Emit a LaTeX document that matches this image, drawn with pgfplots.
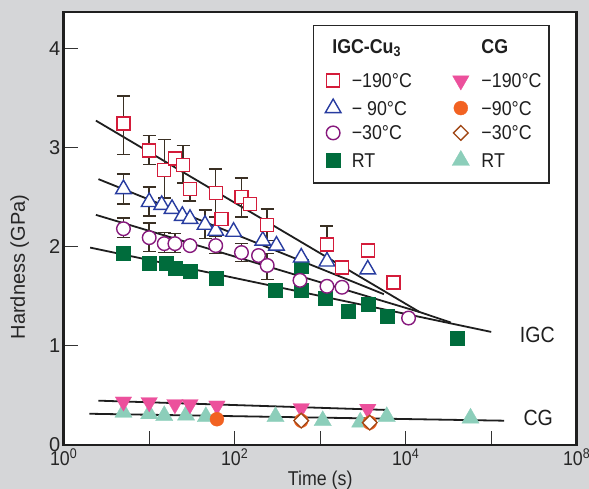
\documentclass[border=0pt]{standalone}
\usepackage{fontspec}
\setmainfont{Liberation Sans}[FakeStretch=0.89]
\newfontfamily\widefont{Liberation Sans}
\usepackage{pgfplots}
\pgfplotsset{compat=1.18}
\definecolor{bg}{RGB}{213,214,216}
\definecolor{cRed}{RGB}{212,28,58}
\definecolor{cBlue}{RGB}{40,60,160}
\definecolor{cPurple}{RGB}{135,25,125}
\definecolor{cGreen}{RGB}{0,108,60}
\definecolor{cPink}{RGB}{236,80,156}
\definecolor{cOrange}{RGB}{242,98,34}
\definecolor{cBrown}{RGB}{160,70,20}
\definecolor{cTeal}{RGB}{140,206,186}
\definecolor{cErr}{RGB}{58,48,36}
\definecolor{cLine}{RGB}{30,30,30}
\pgfplotsset{
  mylegA/.style={legend image code/.code={\path (8bp,7bp) (34bp,7bp); \draw[##1] plot coordinates {(16bp,7bp)};}},
  mylegB/.style={legend image code/.code={\path (0bp,7bp) (28bp,7bp); \draw[##1] plot coordinates {(8bp,7bp)};}},
  myhead/.style={legend image code/.code={\path[draw=none] (0bp,-11bp) -- (0bp,7bp);}},
  redsq/.style={mark=square*, mark size=6.5bp, mark options={draw=cRed, fill=white, line width=1.4bp}},
  bluetri/.style={mark=triangle*, mark size=9bp, mark options={draw=cBlue, fill=white, line width=1.4bp}},
  purcirc/.style={mark=*, mark size=6.8bp, mark options={draw=cPurple, fill=white, line width=1.4bp}},
  greensq/.style={mark=square*, mark size=7bp, mark options={draw=cGreen, fill=cGreen, line width=0.4bp}},
  pinktri/.style={mark=triangle*, mark size=9.5bp, mark options={rotate=180, draw=cPink, fill=cPink, line width=0.3bp}},
  orcirc/.style={mark=*, mark size=7bp, mark options={draw=cOrange, fill=cOrange, line width=0.3bp}},
  brdiam/.style={mark=square*, mark size=5.2bp, mark options={rotate=45, draw=cBrown, fill=white, line width=1.3bp}},
  tealtri/.style={mark=triangle*, mark size=10bp, mark options={draw=cTeal, fill=cTeal, line width=0.3bp}},
  fitline/.style={cLine, line width=1.8bp, forget plot},
  ebar/.style={only marks, mark=none, forget plot,
    error bars/.cd, y dir=both, y explicit,
    error bar style={cErr, line width=1.5bp},
    error mark options={rotate=90, cErr, line width=1.5bp, mark size=6.5bp}},
}
\begin{document}
\begin{tikzpicture}
\fill[bg] (-63.7bp,-44bp) rectangle (525.3bp,445bp);
\useasboundingbox (-63.7bp,-44bp) rectangle (525.3bp,445bp);
\begin{axis}[
  scale only axis, width=513bp, height=433bp,
  at={(0,0)}, anchor=south west,
  xmode=log, xmin=1, xmax=1e6, ymin=0, ymax=4.365,
  axis line style={line width=2.6bp, color=black!88},
  axis background/.style={fill=white},
  xtick={1,10,100,1000,10000,100000,1000000},
  xticklabels={10\textsuperscript{0},,10\textsuperscript{2},,10\textsuperscript{4},,10\textsuperscript{8}},
  ytick={0,1,2,3,4}, yticklabels={0,1,2,3,4},
  minor tick length=0pt, minor tick style={draw=none},
  tick align=inside, major tick length=14bp,
  tick style={line width=1.2bp, color=black!80},
  xtick pos=bottom, ytick pos=left,
  xticklabel style={font=\fontsize{20bp}{24bp}\selectfont, text=black!85},
  yticklabel style={font=\widefont\fontsize{20bp}{24bp}\selectfont, text=black!85},
  xlabel={Time (s)}, ylabel={Hardness (GPa)},
  xlabel style={at={(axis description cs:0.5,0)}, anchor=center, yshift=-35bp, font=\fontsize{20bp}{24bp}\selectfont, text=black!85},
  ylabel style={at={(axis description cs:0,0.411)}, anchor=center, yshift=44bp, font=\widefont\fontsize{20bp}{24bp}\selectfont, text=black!85},
  legend columns=2,
  legend style={at={(rel axis cs:0.485,0.970)}, anchor=north west, draw=black!85, line width=1.3bp, fill=white,
    inner xsep=4bp, inner ysep=14bp, font=\fontsize{20bp}{24bp}\selectfont, text=black!88,
    cells={anchor=base west}, nodes={inner sep=0bp}, row sep=9bp,
    /tikz/every even column/.append style={column sep=40.3bp}},
  clip=false,
]
\addplot[fitline] coordinates {(2.38,3.27) (14560,1.34)};
\addplot[fitline] coordinates {(2.55,2.68) (5560,1.52)};
\addplot[fitline] coordinates {(2.38,2.32) (14560,1.34) (33700,1.235)};
\addplot[fitline] coordinates {(2.04,1.99) (100000,1.14)};
\addplot[fitline] coordinates {(2.55,0.447) (6140,0.353)};
\addplot[fitline] coordinates {(2.0,0.315) (142000,0.245)};
\addplot[ebar] coordinates {
 (5,3.24) += (0,0.28) -= (0,0.31)
 (10,2.97) += (0,0.15) -= (0,0.14)
 (15,2.77) += (0,0.31) -= (0,0.28)
 (25,2.82) += (0,0.20) -= (0,0.18)
 (30,2.58) += (0,0.06) -= (0,0.12)
 (60,2.54) += (0,0.24) -= (0,0.24)
 (120,2.50) += (0,0.19) -= (0,0.20)
 (240,2.22) += (0,0.16) -= (0,0.16)
 (1200,2.02) += (0,0.19) -= (0,0.19)
 (5,2.59) += (0,0.14) -= (0,0.16)
 (10,2.46) += (0,0.14) -= (0,0.15)
 (45,2.23) += (0,0.14) -= (0,0.15)
 (5,2.18) += (0,0.11) -= (0,0.09)
 (10,2.09) += (0,0.15) -= (0,0.14)
 (15,2.03) += (0,0.11) -= (0,0.09)
 (20,2.03) += (0,0.10) -= (0,0.09)
 (60,2.01) += (0,0.09) -= (0,0.08)
 (120,1.94) += (0,0.09) -= (0,0.09)
 (240,1.81) += (0,0.12) -= (0,0.14)
};
\addplot[only marks, greensq, forget plot] coordinates {(5,1.93) (10,1.83) (16,1.83) (20,1.78) (30,1.75) (60,1.68) (300,1.56) (600,1.80) (600,1.56) (1150,1.48) (2130,1.35) (3600,1.42) (6000,1.30) (40500,1.08)};
\addplot[only marks, purcirc, forget plot] coordinates {(5,2.18) (10,2.09) (15,2.03) (20,2.03) (30,2.01) (60,2.01) (120,1.94) (190,1.91) (240,1.81) (580,1.66) (1200,1.60) (1800,1.59) (10800,1.28)};
\addplot[only marks, bluetri, forget plot] coordinates {(5,2.58) (10,2.45) (14,2.42) (18.5,2.38) (24.4,2.31) (30,2.28) (45,2.22) (60,2.16) (97,2.15) (213,2.06) (308,2.01) (600,1.89) (1200,1.85) (3600,1.77)};
\addplot[only marks, redsq, forget plot] coordinates {(5,3.24) (10,2.97) (15,2.77) (20,2.89) (25,2.82) (30,2.58) (60,2.54) (70,2.28) (120,2.50) (150,2.43) (240,2.22) (1200,2.02) (1800,1.79) (3600,1.96) (7200,1.64)};
\addplot[only marks, tealtri, forget plot] coordinates {(5,0.33) (10,0.315) (15,0.295) (27,0.30) (46,0.285) (300,0.285) (1070,0.245) (2940,0.23) (6000,0.285) (57300,0.27)};
\addplot[only marks, pinktri, forget plot] coordinates {(5,0.437) (10,0.43) (20,0.41) (30,0.41) (62,0.396) (600,0.37) (3600,0.363)};
\addplot[only marks, orcirc, forget plot] coordinates {(62,0.26) (600,0.245) (3800,0.225)};
\addplot[only marks, brdiam, forget plot] coordinates {(600,0.245) (3800,0.225)};
\addlegendimage{myhead}\addlegendentry{\makebox[0pt][l]{\kern-20bp\textbf{IGC-Cu\textsubscript{3}}}}
\addlegendimage{myhead}\addlegendentry{\textbf{CG}}
\addlegendimage{mylegA, redsq}\addlegendentry{−190°C}
\addlegendimage{mylegB, pinktri}\addlegendentry{\makebox[63.5bp][l]{−190°C}}
\addlegendimage{mylegA, bluetri}\addlegendentry{− 90°C}
\addlegendimage{mylegB, orcirc}\addlegendentry{−90°C}
\addlegendimage{mylegA, purcirc}\addlegendentry{−30°C}
\addlegendimage{mylegB, brdiam}\addlegendentry{−30°C}
\addlegendimage{mylegA, greensq}\addlegendentry{RT}
\addlegendimage{mylegB, tealtri}\addlegendentry{RT}
\node[font=\fontsize{22bp}{26bp}\selectfont, text=black!88] at (axis cs:346700,1.11) {IGC};
\node[font=\fontsize{22bp}{26bp}\selectfont, text=black!88] at (axis cs:354800,0.277) {CG};
\end{axis}
\end{tikzpicture}
\end{document}
